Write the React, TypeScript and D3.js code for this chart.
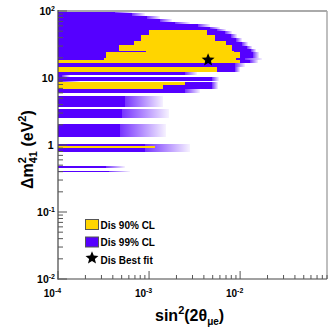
import React from 'react';
import * as d3 from 'd3';

const W = 328;
const H = 327;

const xDomain = [1e-4, 0.09];
const yDomain = [1e-2, 1e2];

// 99% CL region as horizontal strips: [dm2 upper, dm2 lower, sin2 dense edge, sin2 sparse edge]
const cl99Strips: number[][] = [
  [100, 93.4, 4.23e-4, 6.5e-4],
  [93.4, 84.2, 6.5e-4, 9.04e-4],
  [84.2, 76.0, 9.51e-4, 1.32e-3],
  [76.0, 68.5, 1.32e-3, 1.79e-3],
  [68.5, 62.9, 1.93e-3, 2.82e-3],
  [62.9, 57.7, 3.45e-3, 4.68e-3],
  [57.7, 53.9, 4.68e-3, 6.03e-3],
  [53.9, 50.3, 5.58e-3, 7.02e-3],
  [50.3, 45.4, 6.84e-3, 8.17e-3],
  [45.4, 39.6, 7.96e-3, 9.27e-3],
  [39.6, 34.4, 9.04e-3, 1.05e-2],
  [34.4, 30.0, 1.05e-2, 1.22e-2],
  [30.0, 27.1, 1.19e-2, 1.36e-2],
  [27.1, 24.5, 1.32e-2, 1.5e-2],
  [24.5, 19.9, 1.39e-2, 1.62e-2],
  [19.9, 18.3, 1.135e-2, 1.75e-2],
  [18.3, 17.0, 1.29e-2, 1.58e-2],
  [17.0, 14.4, 8.81e-3, 1.135e-2],
  [14.4, 12.3, 8.81e-3, 1.0e-2],
  [12.3, 10.9, 2.49e-3, 3.36e-3],
  [10.9, 10.35, 1.11e-4, 1.35e-4],
  [10.35, 9.02, 4.92e-3, 5.87e-3],
  [9.02, 8.57, 1.11e-4, 1.74e-4],
  [8.57, 6.85, 4.92e-3, 5.73e-3],
  [6.85, 5.97, 2.49e-3, 3.63e-3],
  [5.3, 3.69, 5.45e-4, 1.43e-3],
  [3.44, 2.53, 5.05e-4, 1.66e-3],
  [2.06, 1.31, 4.8e-4, 1.54e-3],
  [1.035, 0.787, 9.04e-4, 2.82e-3],
  [0.478, 0.454, 3.37e-4, 5.45e-4],
  [0.416, 0.396, 3.63e-4, 6.18e-4],
];

// 90% CL region as horizontal strips: [dm2 upper, dm2 lower, sin2 left, sin2 right]
const cl90Strips: number[][] = [
  [52.0, 43.8, 1.0e-3, 4.34e-3],
  [43.8, 35.6, 8.17e-4, 5.31e-3],
  [35.6, 31.1, 6.84e-4, 7.02e-3],
  [31.1, 25.7, 4.68e-4, 8.17e-3],
  [25.7, 24.5, 9.27e-4, 8.59e-3],
  [24.5, 19.9, 3.37e-4, 1.0e-2],
  [19.9, 18.3, 3.2e-4, 9.04e-3],
  [18.3, 17.0, 1e-4, 1.0e-2],
  [14.4, 12.3, 1e-4, 5.58e-3],
  [8.57, 7.73, 1e-4, 2.49e-3],
  [7.73, 6.85, 1e-4, 1.43e-3],
  [0.95, 0.887, 1e-4, 1.16e-3],
];

const bestFit = [4.45e-3, 18.6];

const xMajorTicks = [1e-4, 1e-3, 1e-2];
const xTickExponents = ['-4', '-3', '-2'];
const yMajorTicks = [1e-2, 1e-1, 1, 10, 100];
const yTickBases = ['10', '10', '1', '10', '10'];
const yTickExponents = ['-2', '-1', '', '', '2'];

const legendLabels = ['Dis 90% CL', 'Dis 99% CL', 'Dis Best fit'];

const PURPLE = '#5500ff';
const YELLOW = '#ffd500';
const FONT = '"Liberation Sans", Arial, Helvetica, sans-serif';

function starPath(outer: number, inner: number) {
  const pts: [number, number][] = [];
  for (let i = 0; i < 10; i++) {
    const r = i % 2 === 0 ? outer : inner;
    const a = (Math.PI / 5) * i - Math.PI / 2;
    pts.push([r * Math.cos(a), r * Math.sin(a)]);
  }
  return (d3.line()(pts) as string) + 'Z';
}

export default function App() {
  const x = d3.scaleLog().domain(xDomain).range([58, 327]);
  const y = d3.scaleLog().domain(yDomain).range([279, 11]);
  const x0 = x(xDomain[0]);

  const xMinor: number[] = [];
  for (let d = -4; d <= -2; d++) {
    for (let k = 2; k <= 9; k++) {
      const v = k * Math.pow(10, d);
      if (v <= xDomain[1]) xMinor.push(v);
    }
  }
  const yMinor: number[] = [];
  for (let d = -2; d <= 1; d++) {
    for (let k = 2; k <= 9; k++) yMinor.push(k * Math.pow(10, d));
  }

  const star = starPath(6.8, 3.0);

  return (
    <svg width={W} height={H} style={{ position: 'absolute', left: 0, top: 0, background: '#fff' }} fontFamily={FONT}>
      <defs>
        <linearGradient id="tail" x1="0" x2="1" y1="0" y2="0">
          <stop offset="0" stopColor={PURPLE} stopOpacity={0.8} />
          <stop offset="1" stopColor={PURPLE} stopOpacity={0.05} />
        </linearGradient>
        <clipPath id="plot">
          <rect x={58} y={11} width={269} height={268} />
        </clipPath>
      </defs>
      <g clipPath="url(#plot)" shapeRendering="crispEdges">
        {cl99Strips.map((s, i) => (
          <rect key={'p' + i} x={x0} y={y(s[0])} width={x(s[2]) - x0} height={y(s[1]) - y(s[0])} fill={PURPLE} />
        ))}
        {cl99Strips.map((s, i) => (
          <rect key={'t' + i} x={x(s[2])} y={y(s[0])} width={x(s[3]) - x(s[2])} height={y(s[1]) - y(s[0])} fill="url(#tail)" />
        ))}
        {cl90Strips.map((s, i) => (
          <rect key={'y' + i} x={x(s[2])} y={y(s[0])} width={x(s[3]) - x(s[2])} height={y(s[1]) - y(s[0])} fill={YELLOW} />
        ))}
      </g>
      <path d={star} transform={`translate(${x(bestFit[0])},${y(bestFit[1])})`} fill="#000" />

      {/* frame */}
      <line x1={58} x2={327} y1={11} y2={11} stroke="#aaa" strokeWidth={2} />
      <line x1={327} x2={327} y1={11} y2={279} stroke="#aaa" strokeWidth={1.5} />
      <line x1={58} x2={58} y1={10} y2={279.5} stroke="#444" strokeWidth={1.2} />
      <line x1={57.5} x2={327} y1={279} y2={279} stroke="#444" strokeWidth={1.2} />

      {/* ticks */}
      {xMajorTicks.map((v) => (
        <line key={'xM' + v} x1={x(v)} x2={x(v)} y1={279} y2={271} stroke="#555" strokeWidth={1} />
      ))}
      {xMinor.map((v) => (
        <line key={'xm' + v} x1={x(v)} x2={x(v)} y1={279} y2={275} stroke="#555" strokeWidth={1} />
      ))}
      {yMajorTicks.map((v) => (
        <line key={'yM' + v} x1={58} x2={67} y1={y(v)} y2={y(v)} stroke="#555" strokeWidth={1} />
      ))}
      {yMinor.map((v) => (
        <line key={'ym' + v} x1={58} x2={63} y1={y(v)} y2={y(v)} stroke="#555" strokeWidth={1} />
      ))}

      {/* x labels */}
      {xMajorTicks.map((v, i) => (
        <text key={'xl' + v} x={x(v) - 5.5} y={296.5} textAnchor="middle" fontWeight="bold" fontSize={10}>
          10<tspan dy={-4} fontSize={7}>{xTickExponents[i]}</tspan>
        </text>
      ))}
      {/* y labels */}
      {yMajorTicks.map((v, i) => (
        <text key={'yl' + v} x={yTickExponents[i] ? 55 : 53.5} y={y(v) + 4} textAnchor="end" fontWeight="bold" fontSize={10.5}>
          {yTickBases[i]}
          {yTickExponents[i] ? <tspan dy={-4.5} fontSize={7}>{yTickExponents[i]}</tspan> : null}
        </text>
      ))}

      {/* axis titles */}
      <text x={155} y={321} fontWeight="bold" fontSize={16}>
        sin<tspan dy={-7} fontSize={11}>2</tspan>
        <tspan dy={7}>(2θ</tspan>
        <tspan dy={4} fontSize={10}>μe</tspan>
        <tspan dy={-4}>)</tspan>
      </text>
      <g transform="translate(33,189) rotate(-90)">
        <text x={0} y={0} fontWeight="bold" fontSize={16}>
          Δm<tspan dy={-7} fontSize={11}>2</tspan>
          <tspan dx={-6.1} dy={11} fontSize={11}>41</tspan>
          <tspan dy={-4}>{'\u00a0(eV'}</tspan>
          <tspan dy={-7} fontSize={11}>2</tspan>
          <tspan dy={7}>)</tspan>
        </text>
      </g>

      {/* legend */}
      <rect x={85.5} y={219.5} width={13} height={10} fill={YELLOW} stroke="#555" strokeWidth={1} />
      <rect x={85.5} y={237} width={13} height={10} fill={PURPLE} stroke="#555" strokeWidth={1} />
      <path d={star} transform="translate(92,258)" fill="#000" />
      {legendLabels.map((t, i) => (
        <text key={t} x={100.5} y={228.5 + i * 17.5} fontWeight="bold" fontSize={10}>{t}</text>
      ))}
    </svg>
  );
}
